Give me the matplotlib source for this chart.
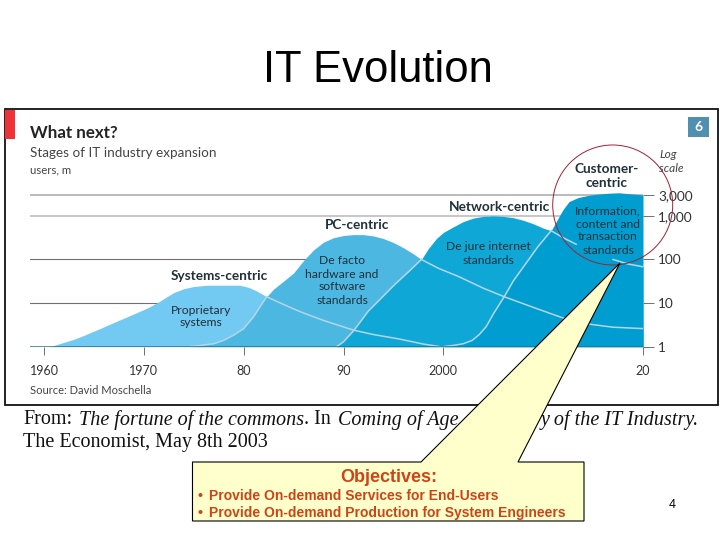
import matplotlib
matplotlib.use("Agg")
import matplotlib.pyplot as plt
from matplotlib.patches import Circle, Polygon, Rectangle

#Chart data (users, m on a log scale)
sys_years = [1960.6, 1962, 1963, 1964, 1965.6, 1967, 1968, 1970, 1970.6, 1971.5, 1972.3, 1973, 1974, 1975, 1976.3, 1978, 1979.6,
             1980.5, 1981.3, 1982.3, 1984, 1985.7, 1988, 1991, 1993, 1995.6, 1998, 1999.7]
sys_users = [1, 1.26, 1.48, 1.82, 2.6, 3.6, 4.5, 7.1, 8.3, 10.7, 14, 17.4, 21.4, 24, 25.7, 25.7, 25.7,
             22.9, 19, 14, 9.3, 6.3, 4, 2.4, 1.9, 1.5, 1.15, 1]
pc_years = [1974.6, 1977, 1978, 1979, 1980, 1981, 1982.3, 1983, 1984, 1985, 1986, 1987, 1988, 1989, 1990, 1991, 1992, 1993,
            1994, 1995, 1996, 1997, 1997.8, 1999.5, 2001.6, 2004, 2006.1, 2009, 2011.6, 2013, 2015, 2017, 2020]
pc_users = [1, 1.17, 1.4, 1.85, 2.6, 4.9, 14, 21, 32, 49, 95, 166, 250, 316, 355, 372, 372, 347,
            302, 245, 186, 135, 100, 63, 40, 22, 14, 8, 4.9, 3.8, 3.2, 2.8, 2.6]
net_years = [1989.3, 1990, 1991, 1991.6, 1992.5, 1993.6, 1995, 1996.5, 1997.8, 1998.5, 1999.3, 2000, 2001, 2002, 2003, 2004, 2005,
             2006, 2007, 2008, 2009, 2010, 2010.8, 2012, 2013.3, 2015, 2017, 2018.5, 2020]
net_users = [1, 1.3, 2.3, 3.5, 6.6, 11.8, 25, 52, 100, 178, 302, 417, 562, 741, 891, 977, 1000,
             977, 912, 794, 661, 525, 457, 316, 224, 148, 100, 79, 68]
cust_years = [2000, 2001, 2002, 2002.9, 2003.6, 2004.3, 2005, 2006.1, 2007, 2008.3, 2009.5, 2010.8, 2011.5, 2012, 2012.6,
              2013.5, 2014.5, 2015.5, 2016.5, 2017.6, 2019, 2020]
cust_users = [1, 1.07, 1.17, 1.4, 1.9, 2.9, 5.6, 14, 32, 83, 200, 457, 891, 1410, 2140,
              2630, 2950, 3160, 3310, 3390, 3160, 3020]

x_ticks = [1960, 1970, 1980, 1990, 2000, 2020]
x_labels = ["1960", "1970", "80", "90", "2000", "20"]
y_ticks = [1, 10, 100, 1000, 3000]
y_labels = ["1", "10", "100", "1,000", "3,000"]

W, H = 720, 540
chart_font = "Lato"
dark = "#333333"

fig = plt.figure(figsize=(7.2, 5.4), dpi=100)

#Chart axes, placed in slide pixels
left, right, bottom, top = 30, 643, 346.7, 188
ax = fig.add_axes([left / W, 1 - bottom / H, (right - left) / W, (bottom - top) / H], zorder=1)
ax.set_yscale("log")
ax.set_xlim(1960 - 14 / 9.983, 2020)
ax.set_ylim(1, 10 ** ((bottom - top) / 43.6))
for s in ax.spines.values():
    s.set_visible(False)
ax.patch.set_alpha(0)

#Gridlines go under the areas
for v, c, lw in [(3000, "#a8a8a8", 1.1), (1000, "#b8b8b8", 1.1), (100, "#707070", 0.8), (10, "#707070", 0.8)]:
    ax.axhline(v, color=c, lw=lw, zorder=1)

ax.fill_between(sys_years, 1, sys_users, color="#72c9f1", lw=0, zorder=2)
ax.fill_between(pc_years, 1, pc_users, color="#4cb8e2", lw=0, zorder=3)
ax.fill_between(net_years, 1, net_users, color="#0fa8d6", lw=0, zorder=4)
ax.fill_between(cust_years, 1, cust_users, color="#009ed0", lw=0, zorder=5)

#Pale edges, only where a curve runs inside the later area
edge = "#b4d6e4"
def edge_line(years, users, start, stop):
    i, j = years.index(start), years.index(stop) + 1
    ax.plot(years[i:j], users[i:j], color=edge, lw=1.1, zorder=6)

edge_line(pc_years, pc_users, 1974.6, 1982.3)
edge_line(sys_years, sys_users, 1982.3, 1999.7)
edge_line(net_years, net_users, 1989.3, 1997.8)
edge_line(pc_years, pc_users, 1997.8, 2020)
edge_line(cust_years, cust_users, 2000, 2010.8)
edge_line(net_years, net_users, 2010.8, 2013.3)
edge_line(net_years, net_users, 2017, 2020)

ax.axhline(1, color="#2f6f86", lw=1.8, zorder=7)

ax.set_xticks(x_ticks)
ax.set_xticklabels(x_labels, fontfamily=chart_font, fontsize=9, color=dark)
ax.tick_params(axis="x", length=5.5, width=0.7, color="#707070", pad=8)
ax.yaxis.tick_right()
ax.set_yticks(y_ticks)
ax.set_yticklabels(y_labels, fontfamily=chart_font, fontsize=9.8, color=dark)
ax.tick_params(axis="y", length=8, width=0.7, color="#707070", pad=3)
ax.minorticks_off()

#Slide layer in pixel coordinates
sl = fig.add_axes([0, 0, 1, 1], zorder=2)
sl.set_xlim(0, W)
sl.set_ylim(H, 0)
sl.axis("off")
sl.patch.set_alpha(0)

sl.text(378, 71, "IT Evolution", family="Liberation Sans", fontsize=31.4, ha="center", va="center", color="black")
sl.add_patch(Rectangle((4.5, 108.5), 713, 296, fill=False, ec="#111111", lw=1.3))
sl.add_patch(Rectangle((5, 110), 10, 29, fc="#ee3338", lw=0))
sl.add_patch(Rectangle((688, 117), 21, 20, fc="#4f90b0", lw=0))
sl.text(698.5, 127, "6", family=chart_font, fontsize=10, weight="bold", color="white", ha="center", va="center")

def label(x, y, s, size=8.7, ha="center", **kw):
    sl.text(x, y, s, family=chart_font, fontsize=size, ha=ha, va="center", color=kw.pop("color", "#20303a"), **kw)

head = 9.8
label(30, 133, "What next?", size=12.2, ha="left", weight="bold", color="#222222")
label(30, 153, "Stages of IT industry expansion", size=9.7, ha="left", color="#444444")
label(30, 170, "users, m", size=8.2, ha="left", color="#444444")
label(219, 276, "Systems-centric", size=head, weight="bold")
label(201, 310, "Proprietary")
label(201, 323, "systems")
label(357, 225, "PC-centric", size=head, weight="bold")
for y, s in zip([261, 274, 287, 300], ["De facto", "hardware and", "software", "standards"]):
    label(342, y, s)
label(499, 207, "Network-centric", size=head, weight="bold")
label(488, 247, "De jure internet")
label(488, 260, "standards")
label(607, 169, "Customer-", size=head, weight="bold")
label(607, 183, "centric", size=head, weight="bold")
for y, s in zip([211, 224, 237, 250], ["Information,", "content and", "transaction", "standards"]):
    label(608, y, s)
label(659, 155, "Log", size=8.6, ha="left", style="italic", color="#444444")
label(659, 169, "scale", size=8.6, ha="left", style="italic", color="#444444")
label(30, 391, "Source: David Moschella", size=8, ha="left", color="#444444")

sl.add_patch(Circle((612.7, 205), 60, fill=False, ec="#a02035", lw=0.7))

#Citation under the chart
serif = "Liberation Serif"
for x, s, st in [(23, "From:", "normal"), (79, "The fortune of the commons", "italic"), (304, ". In", "normal"), (338, "Coming of Age", "italic")]:
    sl.text(x, 420, s, family=serif, style=st, fontsize=14.5, va="center", color="#111111")
sl.text(699, 420, "y of the IT Industry.", family=serif, style="italic", fontsize=14.5, va="center", ha="right", color="#111111")
sl.text(23, 443, "The Economist, May 8th 2003", family=serif, fontsize=14.5, va="center", color="#111111")

#Callout box and its pointer
box = [(192.5, 462), (421, 462), (620, 263), (518, 462), (584, 462), (584, 521), (192.5, 521)]
sl.add_patch(Polygon(box, closed=True, fc="#ffffcc", ec="black", lw=0.8, zorder=5))
red = "#cc4418"
sl.text(389, 477, "Objectives:", family="Liberation Sans", weight="bold", fontsize=13, color=red, ha="center", va="center", zorder=6)
sl.text(197, 496, "•", family="Liberation Sans", weight="bold", fontsize=10, color=red, va="center", zorder=6)
sl.text(209, 496, "Provide On-demand Services for End-Users", family="Liberation Sans", weight="bold", fontsize=10, color=red, va="center", zorder=6)
sl.text(197, 513, "•", family="Liberation Sans", weight="bold", fontsize=10, color=red, va="center", zorder=6)
sl.text(209, 513, "Provide On-demand Production for System Engineers", family="Liberation Sans", weight="bold", fontsize=10, color=red, va="center", zorder=6)
sl.text(672, 505, "4", family="Liberation Sans", fontsize=9, color="black", ha="center", va="center")

fig.savefig("out.png", dpi=100)
